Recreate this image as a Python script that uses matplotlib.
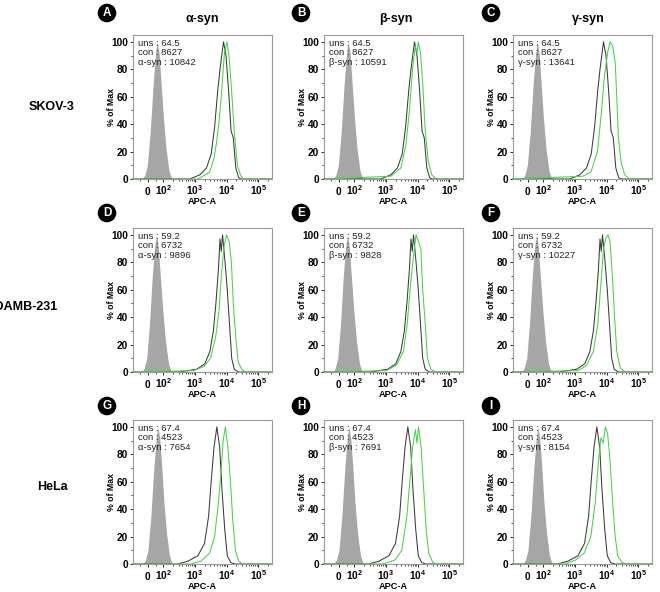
import numpy as np
import matplotlib
matplotlib.use('Agg')
import matplotlib.pyplot as plt
from matplotlib.ticker import FixedLocator, MultipleLocator

plt.rcParams['font.family'] = ['Liberation Sans', 'DejaVu Sans']
plt.rcParams['mathtext.fontset'] = 'custom'
plt.rcParams['mathtext.rm'] = 'Liberation Sans'
plt.rcParams['mathtext.bf'] = 'Liberation Sans:bold'

# ---------------------------
# Data
# ---------------------------
cell_lines = ['SKOV-3', 'MDAMB-231', 'HeLa']
syn_names = ['α-syn', 'β-syn', 'γ-syn']
panel_letters = ['A', 'B', 'C', 'D', 'E', 'F', 'G', 'H', 'I']

uns_median = ['64.5', '59.2', '67.4']
con_median = ['8627', '6732', '4523']
syn_median = [['10842', '10591', '13641'],
              ['9896', '9828', '10227'],
              ['7654', '7691', '8154']]

# unstained, filled grey (APC-A, % of max)
uns_x = [[-35, -20, -4, 15, 34, 50, 60, 72, 85, 100, 121, 150, 178, 200],
         [-38, -24, -8, 10, 28, 44, 55, 66, 80, 96, 117, 145, 172, 195],
         [-32, -16, 0, 19, 38, 54, 64, 76, 90, 104, 126, 156, 184, 205]]
uns_y = [[0, 3, 10, 35, 70, 92, 100, 92, 70, 45, 22, 6, 1, 0],
         [0, 3, 10, 35, 70, 92, 100, 92, 70, 45, 22, 6, 1, 0],
         [0, 3, 10, 35, 70, 92, 100, 92, 70, 45, 22, 6, 1, 0]]

# control, black line (log10 APC-A, % of max)
con_log = [[2.83, 3.15, 3.36, 3.51, 3.62, 3.72, 3.79, 3.90, 3.98, 4.06, 4.14, 4.21, 4.29, 4.38, 4.45],
           [2.50, 3.05, 3.31, 3.47, 3.58, 3.66, 3.74, 3.79, 3.83, 3.87, 3.95, 4.02, 4.09, 4.16, 4.24, 4.37],
           [2.45, 2.77, 3.09, 3.30, 3.43, 3.51, 3.60, 3.69, 3.78, 3.85, 3.94, 4.02, 4.13, 4.26]]
con_y = [[0, 3, 8, 18, 38, 65, 80, 100, 90, 65, 35, 30, 8, 1, 0],
         [0, 2, 6, 15, 30, 50, 75, 97, 88, 100, 80, 60, 35, 10, 2, 0],
         [0, 2, 6, 15, 35, 60, 85, 100, 85, 55, 25, 6, 1, 0]]

# synuclein stained, green line (log10 APC-A, % of max)
syn_log = [
    [[3.10, 3.46, 3.60, 3.67, 3.76, 3.83, 3.93, 4.01, 4.08, 4.14, 4.24, 4.34, 4.45, 4.55],
     [3.15, 3.47, 3.63, 3.74, 3.84, 3.92, 3.98, 4.02, 4.09, 4.16, 4.24, 4.34, 4.45, 4.59],
     [3.24, 3.50, 3.71, 3.82, 3.93, 4.03, 4.11, 4.19, 4.27, 4.32, 4.37, 4.46, 4.57, 4.73]],
    [[2.96, 3.28, 3.49, 3.65, 3.76, 3.83, 3.92, 4.00, 4.08, 4.15, 4.21, 4.29, 4.36, 4.47, 4.61],
     [3.01, 3.33, 3.55, 3.67, 3.78, 3.87, 3.95, 4.03, 4.10, 4.16, 4.24, 4.31, 4.42, 4.56],
     [3.10, 3.37, 3.58, 3.72, 3.82, 3.90, 3.97, 4.04, 4.11, 4.18, 4.25, 4.32, 4.43, 4.59]],
    [[2.87, 3.19, 3.46, 3.62, 3.74, 3.83, 3.89, 3.96, 4.04, 4.12, 4.20, 4.28, 4.38, 4.52],
     [2.91, 3.29, 3.50, 3.66, 3.77, 3.84, 3.93, 3.98, 4.03, 4.11, 4.19, 4.27, 4.35, 4.48, 4.62],
     [2.70, 3.02, 3.29, 3.50, 3.64, 3.74, 3.82, 3.89, 3.96, 4.03, 4.11, 4.19, 4.27, 4.35, 4.49, 4.64]],
]
syn_y = [
    [[0, 5, 15, 25, 42, 60, 92, 100, 88, 70, 35, 10, 2, 0],
     [2, 8, 25, 50, 80, 97, 92, 100, 92, 70, 35, 12, 3, 0],
     [2, 5, 20, 45, 75, 92, 100, 97, 85, 60, 30, 12, 3, 0]],
    [[1, 4, 10, 25, 45, 70, 92, 100, 95, 80, 50, 25, 8, 2, 0],
     [1, 5, 15, 35, 65, 85, 100, 95, 90, 60, 35, 10, 2, 0],
     [1, 5, 15, 35, 65, 90, 97, 100, 95, 70, 40, 15, 3, 0]],
    [[0, 2, 8, 20, 45, 70, 90, 100, 85, 60, 30, 10, 2, 0],
     [0, 3, 10, 35, 65, 85, 98, 88, 100, 85, 55, 25, 8, 1, 0],
     [0, 3, 8, 20, 45, 75, 92, 88, 100, 95, 75, 45, 20, 6, 1, 0]],
]

x_min, x_max = -100, 262143

# ---------------------------
# Layout (figure pixels)
# ---------------------------
W, H = 660, 592
col_left = [132.5, 323.5, 512.5]
row_bottom = [179, 372, 564]
ax_w, ax_h = 139, 144

fig = plt.figure(figsize=(W / 100, H / 100), dpi=100)

grey = '#a6a6a6'
green = '#45d445'
dark = '#3a3a3a'

major_x = [0, 1e2, 1e3, 1e4, 1e5]
major_lbl = [r'$\mathbf{0}$', r'$\mathbf{10^2}$', r'$\mathbf{10^3}$', r'$\mathbf{10^4}$', r'$\mathbf{10^5}$']
minor_x = [-50, 50] + [k * 10 ** d for d in (2, 3, 4) for k in range(2, 10)] + [2e5]


def with_ends(x, y):
    return np.r_[x_min, x, x_max], np.r_[0, y, 0]


for r in range(3):
    for c in range(3):
        ax = fig.add_axes([col_left[c] / W, 1 - row_bottom[r] / H, ax_w / W, ax_h / H])
        ax.set_xscale('symlog', linthresh=100, linscale=0.44)

        ux, uy = with_ends(uns_x[r], uns_y[r])
        ax.fill_between(ux, uy, 0, color=grey, lw=0)

        cx, cy = with_ends(10 ** np.array(con_log[r]), con_y[r])
        ax.plot(cx, cy, color=dark, lw=0.75, clip_on=False)

        sx, sy = with_ends(10 ** np.array(syn_log[r][c]), syn_y[r][c])
        ax.plot(sx, sy, color=green, lw=0.75, clip_on=False)

        ax.set_xlim(x_min, x_max)
        ax.set_ylim(0, 105)

        ax.xaxis.set_major_locator(FixedLocator(major_x))
        ax.xaxis.set_minor_locator(FixedLocator(minor_x))
        ax.set_xticklabels(major_lbl, fontsize=7.3)
        for lab in ax.get_xticklabels():
            lab.set_verticalalignment('baseline')
        ax.yaxis.set_major_locator(MultipleLocator(20))
        ax.yaxis.set_minor_locator(MultipleLocator(10))
        ax.tick_params(axis='x', which='major', length=2.5, width=0.6, pad=9)
        ax.tick_params(axis='y', which='major', length=2.5, width=0.6, pad=0.8, labelsize=7.3)
        ax.tick_params(which='minor', length=1.5, width=0.5)
        for lab in ax.get_yticklabels():
            lab.set_fontweight('bold')

        for sp in ax.spines.values():
            sp.set_color('#9a9a9a')
            sp.set_linewidth(0.8)

        ax.set_xlabel('APC-A', fontsize=6.6, fontweight='bold', va='top')
        ax.xaxis.set_label_coords(0.5, -0.125)
        ax.set_ylabel('% of Max', fontsize=6.3, fontweight='bold')
        ax.yaxis.set_label_coords(-0.118, 0.5)

        ax.text(0.04, 0.975,
                f'uns : {uns_median[r]}\ncon : {con_median[r]}\n{syn_names[c]} : {syn_median[r][c]}',
                transform=ax.transAxes, ha='left', va='top', fontsize=6.8,
                linespacing=1.1, color='#222222')

# column titles
title_x = [202, 396, 588]
for c in range(3):
    fig.text(title_x[c] / W, 1 - 19 / H, syn_names[c], ha='center', va='center',
             fontsize=9, fontweight='bold')

# row labels
fig.text(52 / W, 1 - 107 / H, cell_lines[0], ha='center', va='center', fontsize=9, fontweight='bold')
fig.text(57 / W, 1 - 307 / H, cell_lines[1], ha='right', va='center', fontsize=9, fontweight='bold')
fig.text(52 / W, 1 - 487 / H, cell_lines[2], ha='center', va='center', fontsize=9, fontweight='bold')

# panel letters
letter_x = [107, 301, 491]
letter_y = [13, 213, 406]
for i, letter in enumerate(panel_letters):
    fig.text(letter_x[i % 3] / W, 1 - letter_y[i // 3] / H, letter, ha='center', va='center',
             fontsize=8.5, fontweight='bold', color='white',
             bbox=dict(boxstyle='circle,pad=0.22', fc='black', ec='black'))

fig.savefig('out.png', dpi=100)
